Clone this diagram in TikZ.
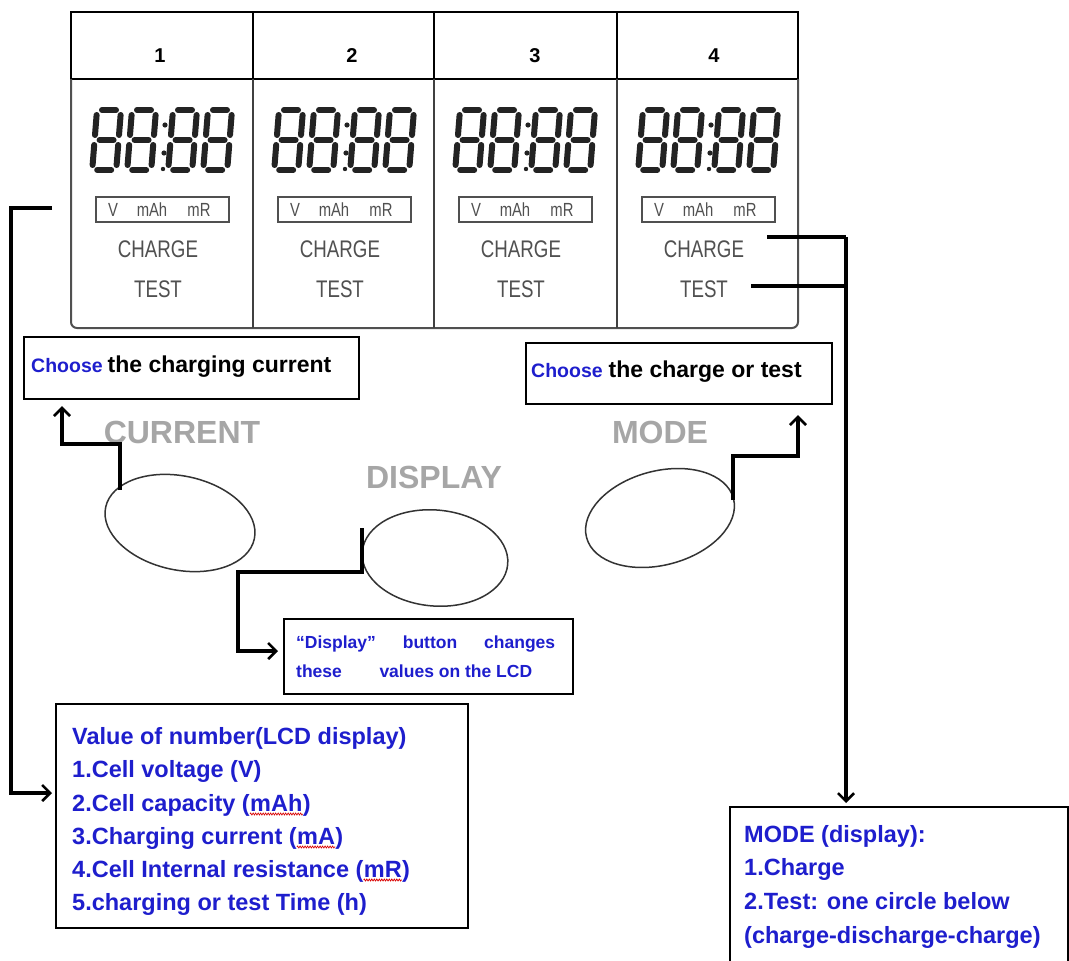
\documentclass[tikz,border=0pt]{standalone}
\usepackage{fontspec}
\setmainfont{Liberation Sans}
\newfontfamily\lcdfont{Liberation Sans}[FakeStretch=0.78]
\usetikzlibrary{arrows.meta,shapes.geometric,calc,decorations.pathmorphing}
\definecolor{tblue}{RGB}{30,30,205}
\definecolor{lcdgray}{RGB}{80,80,80}
\definecolor{btngray}{RGB}{166,166,166}
\definecolor{segc}{RGB}{35,35,35}
\tikzset{
 conn/.style={line width=3.4pt, black},
 arr/.style={conn, -{Straight Barb[length=8pt,width=16pt,line width=2.6pt]}},
 box/.style={draw=black, line width=2.2pt, inner sep=0pt, anchor=north west},
 seg/.style={line width=6pt, line cap=round, segc},
 hdr/.style={font=\fontsize{20}{22}\selectfont\bfseries, inner sep=0pt, anchor=base},
 lcdtxt/.style={text=lcdgray, inner sep=0pt, anchor=base},
 btnlbl/.style={text=btngray, font=\fontsize{32}{36}\selectfont\bfseries, inner sep=0pt, anchor=base},
 btn/.style={draw=black!80, line width=1.5pt, ellipse, inner sep=0pt},
 bluetxt/.style={text=tblue, font=\fontsize{23.5}{28}\selectfont\bfseries, inner sep=0pt, anchor=base west},
 dtxt/.style={text=tblue, font=\fontsize{17.5}{20}\selectfont\bfseries, inner sep=0pt, anchor=base west},
 squig/.style={red!85!black, line width=0.7pt, decorate, decoration={zigzag, amplitude=1pt, segment length=2.5pt}},
}
\newcommand\lcdeight[2]{%
 \begin{scope}[shift={({#1},{#2})},xslant=0.08]
  \draw[seg] (5,0) -- (19,0);
  \draw[seg] (5,30) -- (19,30);
  \draw[seg] (5,60) -- (19,60);
  \draw[seg] (0,5) -- (0,25);
  \draw[seg] (0,35) -- (0,55);
  \draw[seg] (24,5) -- (24,25);
  \draw[seg] (24,35) -- (24,55);
 \end{scope}}
\newcommand\lcdcol[2]{%
 \foreach \dx in {26,61,102,137} {\lcdeight{#1+\dx}{110}}
 \fill[segc] ({#1+94},125) circle (2.6) ({#1+93},153) circle (2.6) ({#1+92},169) circle (2.2);
 \draw[lcdgray, line width=1.4pt] ({#1+25},197) rectangle ({#1+158},222);
 \node[lcdtxt, font=\lcdfont\fontsize{19}{21}\selectfont] (u#2v) at ({#1+42},216) {V};
 \node[lcdtxt, font=\lcdfont\fontsize{19}{21}\selectfont] (u#2a) at ({#1+81},216) {mAh};
 \node[lcdtxt, font=\lcdfont\fontsize{19}{21}\selectfont] (u#2r) at ({#1+128},216) {mR};
 \node[lcdtxt, font=\lcdfont\fontsize{24}{26}\selectfont] (charge#2) at ({#1+87},257) {CHARGE};
 \node[lcdtxt, font=\lcdfont\fontsize{24}{26}\selectfont] (test#2) at ({#1+87},297) {TEST};
}
\begin{document}
\begin{tikzpicture}[x=1pt,y=-1pt]
\clip (0,0) rectangle (1069,961);
\fill[white] (0,0) rectangle (1069,961);

% header
\draw[line width=2.4pt] (71,12) rectangle (798,79);
\foreach \xx in {253,434,617} \draw[line width=2.4pt] (\xx,12) -- (\xx,79);
\node[hdr] (h1) at (160,62) {1};
\node[hdr] (h2) at (352,62) {2};
\node[hdr] (h3) at (535,62) {3};
\node[hdr] (h4) at (714,62) {4};

% LCD panel
\draw[lcdgray, line width=2pt, rounded corners=6pt] (71,79) -- (71,328) -- (798,328) -- (798,79);
\foreach \xx in {253,434,617} \draw[black!75, line width=2.4pt] (\xx,79) -- (\xx,328);
\lcdcol{71}{1}
\lcdcol{253}{2}
\lcdcol{434}{3}
\lcdcol{617}{4}

% top boxes
\node[box, minimum width=335pt, minimum height=62pt] (curBox) at (23,336) {};
\node[anchor=base west, inner sep=0pt] (curTxt) at (31,372) {{\color{tblue}\fontsize{19.5}{22}\selectfont\bfseries Choose}\hspace{5pt}{\fontsize{23}{26}\selectfont\bfseries the charging current}};
\node[box, minimum width=306pt, minimum height=61pt] (modeChoose) at (525,342) {};
\node[anchor=base west, inner sep=0pt] (modeTxt) at (531,377) {{\color{tblue}\fontsize{19.5}{22}\selectfont\bfseries Choose}\hspace{6pt}{\fontsize{23}{26}\selectfont\bfseries the charge or test}};

% button labels
\node[btnlbl] (lblCur) at (182,443) {CURRENT};
\node[btnlbl] (lblDisp) at (434,488) {DISPLAY};
\node[btnlbl] (lblMode) at (660,443) {MODE};

% buttons
\node[btn, minimum width=152pt, minimum height=94pt, rotate=-12] (curBtn) at (180,523) {};
\node[btn, minimum width=146pt, minimum height=96pt, rotate=-5] (dispBtn) at (435,558) {};
\node[btn, minimum width=152pt, minimum height=94pt, rotate=15] (modeBtn) at (660,518) {};

% display box
\node[box, minimum width=289pt, minimum height=75pt] (dispBox) at (283,618) {};
\node[dtxt] (d1) at (296,648) {\makebox[259pt][s]{“Display” button changes}};
\node[dtxt] (d2) at (296,677) {\makebox[236pt][l]{these\hfill values on the LCD}};

% value box
\node[box, minimum width=412pt, minimum height=224pt] (valBox) at (55,703) {};
\node[bluetxt] (v0) at (72,744) {Value of number(LCD display)};
\node[bluetxt] (v1) at (72,777) {1.Cell voltage (V)};
\node[bluetxt] (v2) at (72,811) {2.Cell capacity (};
\node[bluetxt] (v2m) at (v2.base east) {mAh};
\node[bluetxt] (v2e) at (v2m.base east) {)};
\node[bluetxt] (v3) at (72,844) {3.Charging current (};
\node[bluetxt] (v3m) at (v3.base east) {mA};
\node[bluetxt] (v3e) at (v3m.base east) {)};
\node[bluetxt] (v4) at (72,877) {4.Cell Internal resistance (};
\node[bluetxt] (v4m) at (v4.base east) {mR};
\node[bluetxt] (v4e) at (v4m.base east) {)};
\node[bluetxt] (v5) at (72,910) {5.charging or test Time (h)};
\draw[squig] ([yshift=-3pt]v2m.base west) -- ([yshift=-3pt]v2m.base east);
\draw[squig] ([yshift=-3pt]v3m.base west) -- ([yshift=-3pt]v3m.base east);
\draw[squig] ([yshift=-3pt]v4m.base west) -- ([yshift=-3pt]v4m.base east);

% mode box
\node[box, minimum width=338pt, minimum height=200pt] (modeBox) at (729,806) {};
\node[bluetxt] (m0) at (744,842) {MODE (display):};
\node[bluetxt] (m1) at (744,875) {1.Charge};
\node[bluetxt] (m2) at (744,909) {2.Test: one circle below};
\node[bluetxt] (m3) at (744,943) {(charge-discharge-charge)};

% connector coordinates
\coordinate (lcdL) at (52,208);
\coordinate (tipVal) at ($(valBox.north west)+(-3,90)$);
\coordinate (curStart) at (120,490);
\coordinate (tipCur) at ($(curBox.south west)+(39,6)$);
\coordinate (modeStart) at (733,500);
\coordinate (tipModeC) at ($(modeChoose.south west)+(273,10)$);
\coordinate (dispStart) at (362,528);
\coordinate (tipDisp) at ($(dispBox.north west)+(-5,33)$);
\coordinate (chgStart) at (767,237);
\coordinate (tstStart) at (751,286);
\coordinate (busTop) at (846,237);
\coordinate (busTest) at (846,286);
\coordinate (tipModeBox) at ($(modeBox.north west)+(117,-3)$);

% connectors
\draw[arr] (lcdL) -- (11,208) -- (11,793) -- (tipVal);
\draw[arr] (curStart) -- (120,444) -- (62,444) -- (tipCur);
\draw[arr] (modeStart) -- (733,456) -- (798,456) -- (tipModeC);
\draw[arr] (dispStart) -- (362,572) -- (238,572) -- (238,651) -- (tipDisp);
\draw[conn] (chgStart) -- (busTop);
\draw[conn] (tstStart) -- (busTest);
\draw[arr] (busTop) -- (tipModeBox);
\end{tikzpicture}
\end{document}
